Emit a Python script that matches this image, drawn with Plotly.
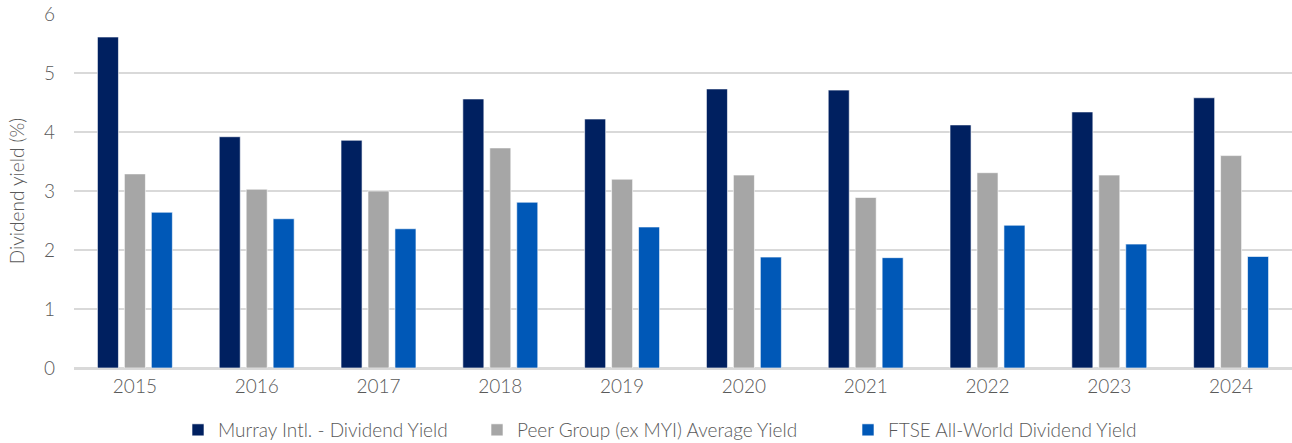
import plotly.graph_objects as go

years = ["2015", "2016", "2017", "2018", "2019", "2020", "2021", "2022", "2023", "2024"]
murray = [5.61, 3.92, 3.86, 4.56, 4.22, 4.73, 4.71, 4.12, 4.34, 4.58]
peer = [3.29, 3.03, 3.00, 3.73, 3.20, 3.27, 2.89, 3.31, 3.27, 3.60]
ftse = [2.64, 2.53, 2.36, 2.81, 2.39, 1.88, 1.87, 2.42, 2.10, 1.89]

names = ["Murray Intl. - Dividend Yield", "Peer Group (ex MYI) Average Yield", "FTSE All-World Dividend Yield"]
colors = ["#002060", "#A6A6A6", "#0058B7"]
legend_ids = ["legend", "legend2", "legend3"]
legend_x = [178, 477, 848]

font_family = "Lato, 'Open Sans', sans-serif"
txt = "#595959"

fig = go.Figure()
for name, vals, col, lid in zip(names, [murray, peer, ftse], colors, legend_ids):
    fig.add_trace(go.Bar(
        x=years, y=vals, name=name, legend=lid,
        marker=dict(color=col, line=dict(color="rgba(255,255,255,0.6)", width=1)),
    ))

legend_common = dict(orientation="h", xref="container", xanchor="left",
                     y=1 - 430 / 443, yref="container", yanchor="middle",
                     font=dict(size=19, color=txt, weight=300), itemwidth=30,
                     bgcolor="rgba(0,0,0,0)")

fig.update_layout(
    width=1292, height=443,
    margin=dict(l=74, r=0, t=14, b=75, autoexpand=False),
    paper_bgcolor="white", plot_bgcolor="white",
    barmode="group", bargap=0.336, bargroupgap=0.22,
    font=dict(family=font_family, size=19, color=txt, weight=300),
    showlegend=True,
    legend=dict(x=legend_x[0] / 1292, **legend_common),
    legend2=dict(x=legend_x[1] / 1292, **legend_common),
    legend3=dict(x=legend_x[2] / 1292, **legend_common),
    xaxis=dict(showgrid=False, showline=True, linecolor="#D9D9D9", linewidth=1.5,
               ticks="", automargin=False, tickfont=dict(size=19, color=txt, weight=300)),
    yaxis=dict(range=[0, 6], dtick=1, showgrid=True, gridcolor="#D9D9D9", gridwidth=1.5,
               zeroline=True, zerolinecolor="#D9D9D9", zerolinewidth=1.5, automargin=False,
               ticks="", ticklabelstandoff=18, tickfont=dict(size=19, color=txt, weight=300),
               title=dict(text="Dividend yield (%)", font=dict(size=19, color=txt, weight=300), standoff=14)),
)
fig.write_html("out.html", config={"displayModeBar": False},
               post_script="document.body.style.margin='0';")
